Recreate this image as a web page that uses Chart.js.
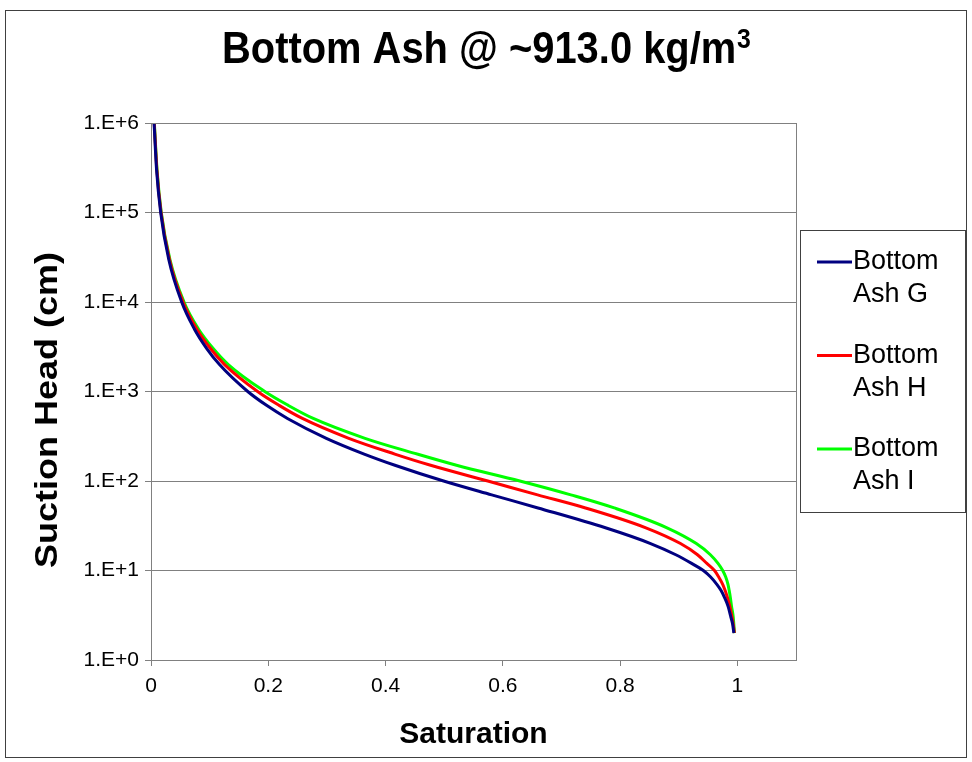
<!DOCTYPE html>
<html><head><meta charset="utf-8">
<script src="https://cdn.jsdelivr.net/npm/chart.js@4.4.0/dist/chart.umd.min.js"></script>
<style>html,body{margin:0;padding:0;background:#fff}#wrap{width:972px;height:762px;position:relative}</style>
</head><body><div id="wrap"><canvas id="c" width="972" height="762"></canvas></div>
<script>
const titleMain = 'Bottom Ash @ ~913.0 kg/m';
const titleSup = '3';
const xAxisTitle = 'Saturation';
const yAxisTitle = 'Suction Head (cm)';
const seriesNames = ['Bottom Ash G', 'Bottom Ash H', 'Bottom Ash I'];
const legendLines = [['Bottom', 'Ash G'], ['Bottom', 'Ash H'], ['Bottom', 'Ash I']];
const seriesColors = ['#000080', '#FF0000', '#00FF00'];
const suctionHead = [1e6, 3e5, 1e5, 3e4, 1e4, 5e3, 3e3, 2e3, 1e3, 700, 500, 300, 200, 150, 100, 70, 50, 30, 20, 15, 12, 10, 8.5, 7, 6, 5, 4, 3, 2.5, 2];
const satG = [0.0052, 0.0095, 0.0165, 0.0302, 0.0523, 0.0739, 0.0954, 0.1168, 0.165, 0.197, 0.2327, 0.299, 0.3636, 0.416, 0.499, 0.581, 0.660, 0.775, 0.852, 0.895, 0.922, 0.942, 0.954, 0.965, 0.972, 0.978, 0.984, 0.989, 0.992, 0.994];
const satH = [0.0055, 0.0100, 0.0171, 0.0314, 0.0546, 0.0780, 0.1018, 0.1255, 0.1818, 0.2185, 0.2582, 0.3373, 0.4158, 0.4769, 0.5744, 0.6593, 0.741, 0.844, 0.903, 0.932, 0.948, 0.961, 0.968, 0.975, 0.979, 0.983, 0.987, 0.991, 0.993, 0.995];
const satI = [0.0057, 0.0103, 0.0175, 0.0322, 0.0563, 0.0809, 0.1064, 0.1318, 0.194, 0.234, 0.2767, 0.365, 0.454, 0.521, 0.629, 0.716, 0.790, 0.880, 0.930, 0.954, 0.967, 0.975, 0.980, 0.984, 0.986, 0.988, 0.990, 0.993, 0.994, 0.995];
const xTicks = [0, 0.2, 0.4, 0.6, 0.8, 1];
const yTicks = [1, 10, 100, 1e3, 1e4, 1e5, 1e6];

const FONT = "'Liberation Sans', Arial, sans-serif";
const seriesSat = [satG, satH, satI];

const framePlugin = {
  id: 'frame',
  beforeDraw(chart) {
    const ctx = chart.ctx;
    ctx.save();
    ctx.fillStyle = '#fff';
    ctx.fillRect(0, 0, chart.width, chart.height);
    ctx.strokeStyle = '#404040';
    ctx.lineWidth = 1;
    ctx.strokeRect(5.5, 10.5, 961, 747);
    ctx.restore();
  },
  afterDraw(chart) {
    const ctx = chart.ctx;
    const a = chart.chartArea;
    ctx.save();
    ctx.strokeStyle = '#808080';
    ctx.lineWidth = 1;
    ctx.strokeRect(Math.round(a.left) + 0.5, Math.round(a.top) + 0.5, Math.round(a.right - a.left), Math.round(a.bottom - a.top));

    // chart title (slightly condensed like the reference)
    ctx.fillStyle = '#000';
    ctx.textBaseline = 'alphabetic';
    ctx.textAlign = 'left';
    ctx.font = 'bold 45px ' + FONT;
    const wMain = ctx.measureText(titleMain).width;
    ctx.font = 'bold 28px ' + FONT;
    const wSup = ctx.measureText(titleSup).width;
    const targetW = 528;
    const sx = targetW / (wMain + wSup);
    ctx.save();
    ctx.translate(486 - targetW / 2, 63);
    ctx.scale(sx, 1);
    ctx.font = 'bold 45px ' + FONT;
    ctx.fillText(titleMain, 0, 0);
    ctx.font = 'bold 28px ' + FONT;
    ctx.fillText(titleSup, wMain + 1, -15);
    ctx.restore();

    // y axis title
    ctx.save();
    ctx.font = 'bold 32px ' + FONT;
    const wy = ctx.measureText(yAxisTitle).width;
    ctx.translate(48, 410);
    ctx.rotate(-Math.PI / 2);
    ctx.scale(316 / wy, 1);
    ctx.textAlign = 'center';
    ctx.textBaseline = 'middle';
    ctx.fillText(yAxisTitle, 0, 0);
    ctx.restore();

    // legend
    const bx = 800.5, by = 230.5, bw = 165, bh = 282;
    ctx.strokeStyle = '#404040';
    ctx.lineWidth = 1;
    ctx.strokeRect(bx, by, bw, bh);
    ctx.font = '27px ' + FONT;
    ctx.textBaseline = 'middle';
    ctx.textAlign = 'left';
    chart.data.datasets.forEach((ds, i) => {
      const cy = 262 + i * 93.5;
      ctx.strokeStyle = ds.borderColor;
      ctx.lineWidth = 3;
      ctx.beginPath();
      ctx.moveTo(817, cy);
      ctx.lineTo(852, cy);
      ctx.stroke();
      ctx.fillStyle = '#000';
      legendLines[i].forEach((t, j) => ctx.fillText(t, 853, cy + j * 33));
    });
    ctx.restore();
  }
};

new Chart(document.getElementById('c'), {
  type: 'line',
  data: {
    datasets: seriesNames.map((name, i) => ({
      label: name,
      data: suctionHead.map((h, k) => ({ x: seriesSat[i][k], y: h })),
      borderColor: seriesColors[i],
      backgroundColor: seriesColors[i],
      borderWidth: 3,
      pointRadius: 0,
      cubicInterpolationMode: 'monotone',
      fill: false
    }))
  },
  options: {
    responsive: false,
    devicePixelRatio: 1,
    animation: false,
    layout: { padding: { left: 0, right: 176, top: 123, bottom: 0 } },
    plugins: {
      legend: { display: false },
      tooltip: { enabled: false },
      title: { display: false }
    },
    scales: {
      x: {
        type: 'linear',
        min: 0,
        max: 1.1,
        afterBuildTicks: s => { s.ticks = xTicks.map(v => ({ value: v })); },
        afterFit: s => { s.height = 102; },
        grid: { drawOnChartArea: false, drawTicks: true, tickLength: 6, color: '#808080' },
        border: { display: true, color: '#808080' },
        ticks: {
          color: '#000',
          padding: 8,
          maxRotation: 0,
          font: { family: FONT, size: 21 },
          callback: v => String(Math.round(v * 10) / 10)
        },
        title: {
          display: true,
          text: xAxisTitle,
          color: '#000',
          font: { family: FONT, size: 30, weight: 'bold' },
          padding: { top: 0, bottom: 9 }
        }
      },
      y: {
        type: 'logarithmic',
        min: 1,
        max: 1e6,
        afterBuildTicks: s => { s.ticks = yTicks.map(v => ({ value: v })); },
        afterFit: s => { s.width = 151; },
        grid: { drawOnChartArea: true, drawTicks: true, tickLength: 6, color: '#808080' },
        border: { display: true, color: '#808080' },
        ticks: {
          color: '#000',
          padding: 6,
          font: { family: FONT, size: 21 },
          callback: v => '1.E+' + Math.round(Math.log10(v))
        },
        title: { display: false }
      }
    }
  },
  plugins: [framePlugin]
});
</script>
</body></html>
